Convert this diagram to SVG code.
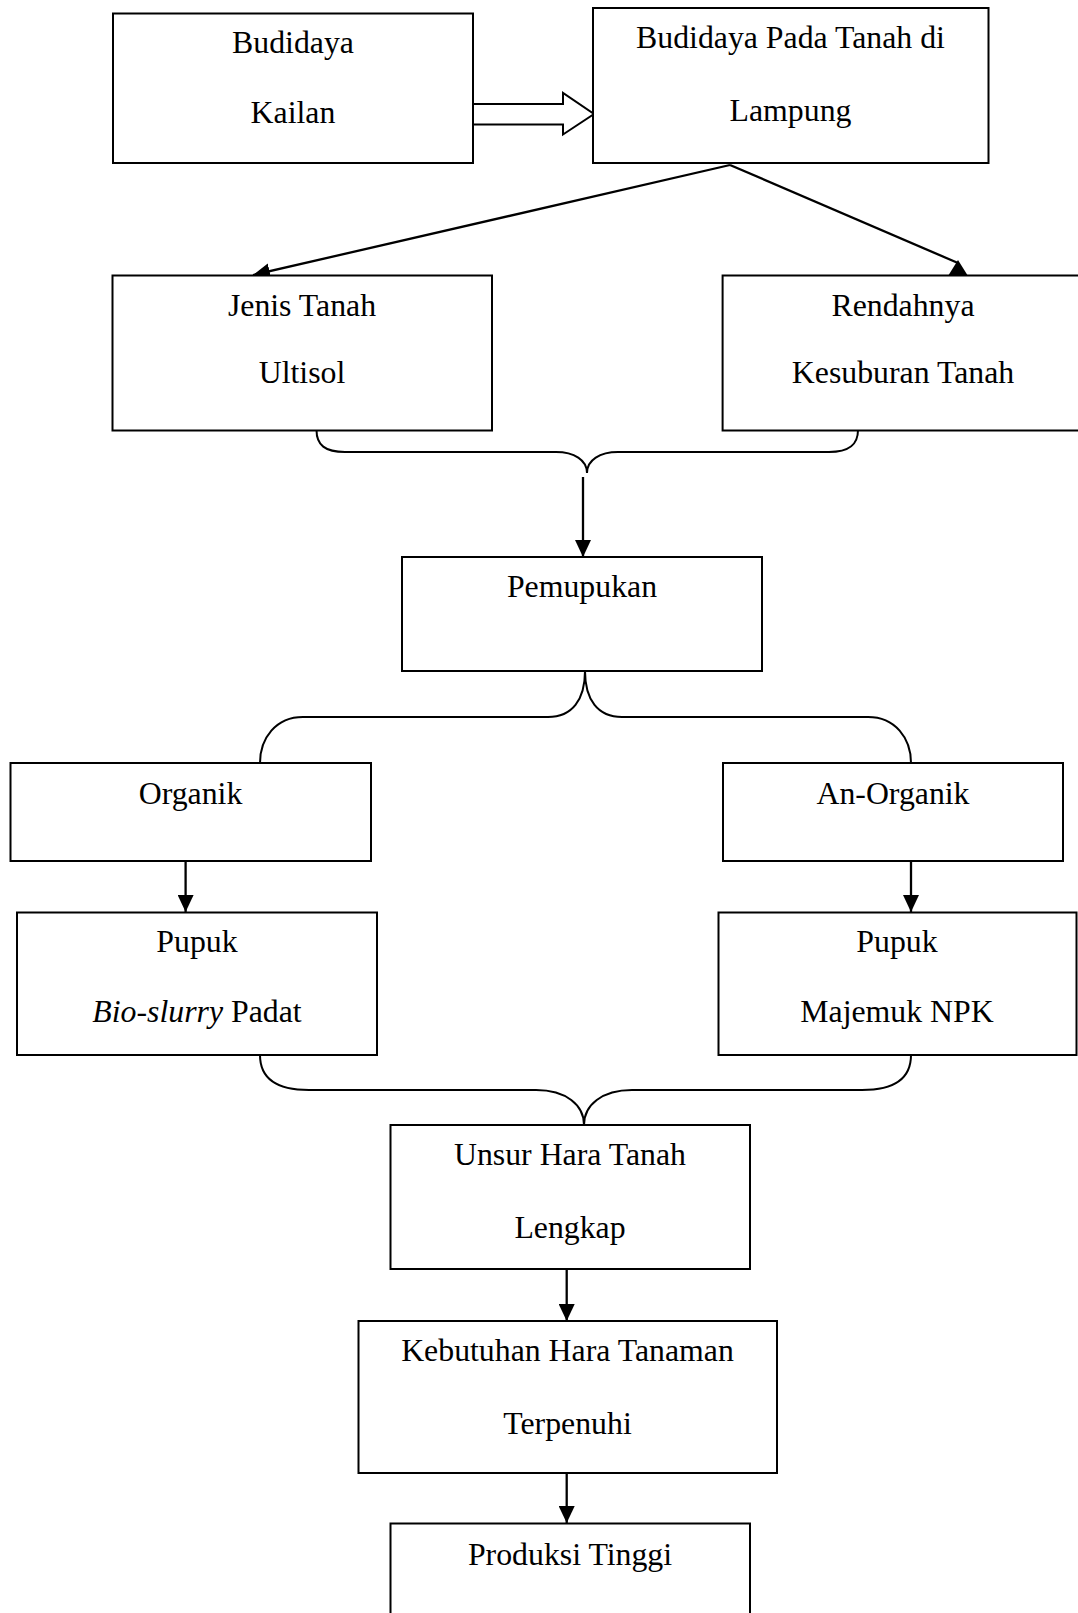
<svg xmlns="http://www.w3.org/2000/svg" width="1078" height="1613" viewBox="0 0 1078 1613">
<style>
.box{fill:#fff;stroke:#000;stroke-width:2}
.t{font-family:"Liberation Serif","Times New Roman",serif;font-size:31.8px;fill:#000;text-anchor:middle}
.ln{fill:none;stroke:#000;stroke-width:2.3}
.br{fill:none;stroke:#000;stroke-width:2}
.ah{fill:#000;stroke:none}
</style>
<defs>
<marker id="arrL" viewBox="0 0 17 16" refX="17" refY="8" markerWidth="17" markerHeight="16" markerUnits="userSpaceOnUse" orient="auto">
<path d="M0,0 L17,8 L0,16 z" fill="#000"/>
</marker>
</defs>
<rect width="1078" height="1613" fill="#fff"/>
<g id="connectors">
<polygon points="470,104 563,104 563,93 594,114 563,134.5 563,124.5 470,124.5" fill="#fff" stroke="#000" stroke-width="2"/>
<line class="ln" x1="730" y1="165" x2="253" y2="275" marker-end="url(#arrL)"/>
<line class="ln" x1="730" y1="165" x2="958" y2="263"/>
<polygon class="ah" points="948,276 958,260 968,276"/>
<path class="br" d="M316.5,430 C316.5,445 325,452 345,452 L556,452 C574,452 587,460 587,473 C587,460 600,452 618,452 L829,452 C849,452 858,445 858,430"/>
<line class="ln" x1="583" y1="477" x2="583" y2="557" marker-end="url(#arrL)"/>
<path class="br" d="M585,671 C585,700 572,717 548,717 L303,717 C276,717 260,738 260,763"/>
<path class="br" d="M585,671 C585,700 598,717 622,717 L868,717 C895,717 911,738 911,763"/>
<line class="ln" x1="185.6" y1="862" x2="185.6" y2="912" marker-end="url(#arrL)"/>
<line class="ln" x1="911" y1="862" x2="911" y2="912" marker-end="url(#arrL)"/>
<path class="br" d="M260,1055 C260,1078 275,1090 309,1090 L536,1090 C566,1090 584,1105 584,1125"/>
<path class="br" d="M911,1055 C911,1078 896,1090 862,1090 L632,1090 C602,1090 584,1105 584,1125"/>
<line class="ln" x1="566.7" y1="1269" x2="566.7" y2="1321" marker-end="url(#arrL)"/>
<line class="ln" x1="566.7" y1="1473" x2="566.7" y2="1523" marker-end="url(#arrL)"/>
</g>
<g id="n1"><rect class="box" x="113" y="13.5" width="360" height="149.5"/>
<text class="t" x="293" y="53">Budidaya</text><text class="t" x="293" y="122.5">Kailan</text></g>
<g id="n2"><rect class="box" x="593" y="8" width="395.5" height="155"/>
<text class="t" x="790.5" y="48">Budidaya Pada Tanah di</text><text class="t" x="790.5" y="121">Lampung</text></g>
<g id="n3"><rect class="box" x="112.5" y="275.5" width="379.5" height="155"/>
<text class="t" x="302" y="315.7">Jenis Tanah</text><text class="t" x="302" y="383">Ultisol</text></g>
<g id="n4"><rect class="box" x="722.6" y="275.5" width="370" height="155"/>
<text class="t" x="903" y="315.7">Rendahnya</text><text class="t" x="903" y="383">Kesuburan Tanah</text></g>
<g id="n5"><rect class="box" x="402" y="557" width="360" height="114"/>
<text class="t" x="582" y="597">Pemupukan</text></g>
<g id="n6"><rect class="box" x="10.5" y="763" width="360.5" height="98"/>
<text class="t" x="190.5" y="804">Organik</text></g>
<g id="n7"><rect class="box" x="723" y="763" width="340" height="98"/>
<text class="t" x="893" y="804">An-Organik</text></g>
<g id="n8"><rect class="box" x="17" y="912.5" width="360" height="142.5"/>
<text class="t" x="197" y="952">Pupuk</text><text class="t" x="197" y="1022"><tspan font-style="italic">Bio-slurry</tspan> Padat</text></g>
<g id="n9"><rect class="box" x="718.5" y="912.5" width="358" height="142.5"/>
<text class="t" x="897" y="952">Pupuk</text><text class="t" x="897" y="1022">Majemuk NPK</text></g>
<g id="n10"><rect class="box" x="390.5" y="1125" width="359.5" height="144"/>
<text class="t" x="570" y="1165">Unsur Hara Tanah</text><text class="t" x="570" y="1238">Lengkap</text></g>
<g id="n11"><rect class="box" x="358.5" y="1321" width="418.5" height="152"/>
<text class="t" x="567.5" y="1361">Kebutuhan Hara Tanaman</text><text class="t" x="567.5" y="1434">Terpenuhi</text></g>
<g id="n12"><rect class="box" x="390.5" y="1523.5" width="359.5" height="120"/>
<text class="t" x="570" y="1565">Produksi Tinggi</text></g>
</svg>
